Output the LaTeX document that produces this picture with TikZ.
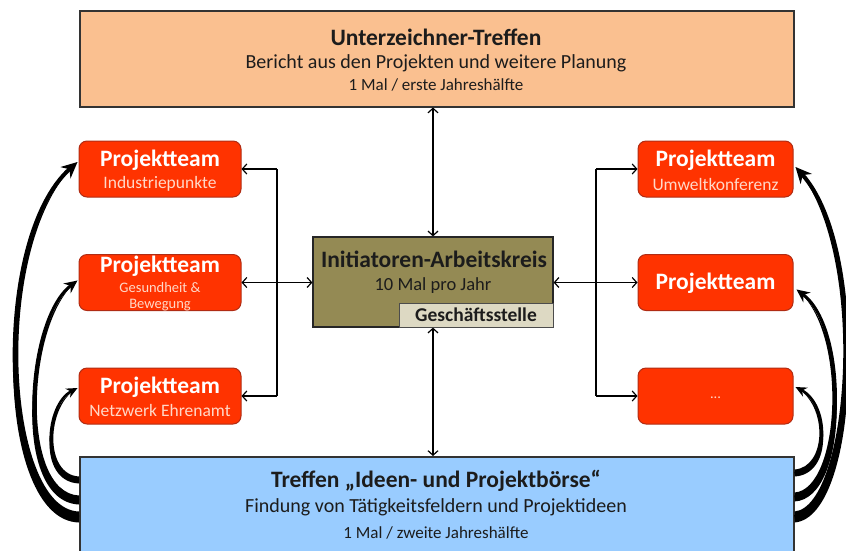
\documentclass[tikz,border=0pt]{standalone}
\usepackage{fontspec}
\setmainfont{Carlito}
\usetikzlibrary{arrows.meta,calc}

\definecolor{peach}{RGB}{250,192,144}
\definecolor{skyfill}{RGB}{153,204,255}
\definecolor{teamred}{RGB}{255,51,0}
\definecolor{teamedge}{RGB}{176,44,20}
\definecolor{olivefill}{RGB}{148,138,84}
\definecolor{khakifill}{RGB}{221,217,195}
\definecolor{subtext}{RGB}{255,216,200}
\definecolor{inktext}{RGB}{28,28,28}

% thick swooping arrow with a tapered body:
% start, control 1, control 2, end, outward sign, half width at the start, arrow style
\newcommand\swoosh[7]{%
  \draw[#7] (#1) .. controls (#2) and (#3) .. (#4);
  \fill ($(#1)+(0,#6)$) .. controls ($(#2)+({(#5)*#6},#6)$) and ($(#3)+({(#5)*1.5},0)$) .. (#4)
    .. controls ($(#3)+({-1*(#5)*1.5},0)$) and ($(#2)+({-1*(#5)*#6},-#6)$) .. ($(#1)+(0,-#6)$) -- cycle;}

\begin{document}
\begin{tikzpicture}[x=1pt,y=-1pt,
  bigbox/.style={draw=black!80,line width=1.5pt,minimum width=714pt,inner sep=0pt,anchor=north west},
  team/.style={draw=teamedge,line width=1pt,fill=teamred,rounded corners=8pt,minimum height=56pt,inner sep=0pt},
  lteam/.style={team,minimum width=162pt},
  rteam/.style={team,minimum width=155pt},
  headtxt/.style={font=\bfseries\fontsize{23.5}{25}\selectfont,text=inktext,inner sep=0pt},
  subtxt/.style={font=\fontsize{20}{22}\selectfont,text=inktext,inner sep=0pt},
  smalltxt/.style={font=\fontsize{17}{19}\selectfont,text=inktext,inner sep=0pt},
  teamhead/.style={font=\bfseries\fontsize{23.5}{25}\selectfont,text=white,inner sep=0pt},
  teamsub/.style={font=\fontsize{17.5}{19}\selectfont,text=subtext,inner sep=0pt},
  teamtiny/.style={font=\fontsize{14.5}{16}\selectfont,text=subtext,inner sep=0pt},
  link/.style={draw=black,line width=1.2pt},
  lk/.style={link,arrows={Straight Barb[length=4.5pt,width=10pt]-Straight Barb[length=4.5pt,width=10pt]}},
  lkto/.style={link,-{Straight Barb[length=4.5pt,width=10pt]}},
  bigA/.style={draw=black,line width=4pt,-{Stealth[length=16pt,width=15pt]}},
  bigB/.style={draw=black,line width=3pt,-{Stealth[length=13pt,width=12pt]}},
  bigC/.style={draw=black,line width=2.5pt,-{Stealth[length=11pt,width=10pt]}}
]
\useasboundingbox (0,0) rectangle (846,550);

% main meeting boxes
\node[bigbox,fill=peach,minimum height=96pt] (top) at (79,10) {};
\node[bigbox,fill=skyfill,minimum height=110pt] (bot) at (79,456) {};

% central working group
\node[draw=black!85,line width=1.2pt,fill=olivefill,minimum width=240pt,minimum height=90pt,inner sep=0pt] (cen) at (433,282) {};
\node[draw=black!70,line width=1pt,fill=khakifill,minimum width=154pt,minimum height=24pt,inner sep=0pt] (office) at (476,315) {};

% project teams
\node[lteam] (lt1) at (160,169) {};
\node[lteam] (lt2) at (160,282.5) {};
\node[lteam] (lt3) at (160,396) {};
\node[rteam] (rt1) at (715.5,169) {};
\node[rteam] (rt2) at (715.5,282.5) {};
\node[rteam] (rt3) at (715.5,396) {};

% texts
\node[headtxt] (topT) at (436,37) {Unterzeichner-Treffen};
\node[subtxt] (topS) at (436,63) {Bericht aus den Projekten und weitere Planung};
\node[smalltxt] (topF) at (436,85) {1 Mal / erste Jahreshälfte};

\node[headtxt] (botT) at (436,481) {Treffen „Ideen- und Projektbörse“};
\node[subtxt] (botS) at (436,507) {Findung von Tätigkeitsfeldern und Projektideen};
\node[smalltxt] (botF) at (436,533) {1 Mal / zweite Jahreshälfte};

\node[headtxt] (cenT) at (434,259) {Initiatoren-Arbeitskreis};
\node[font=\fontsize{18.5}{20}\selectfont,text=inktext,inner sep=0pt] (cenS) at (433,286) {10 Mal pro Jahr};
\node[font=\bfseries\fontsize{19.5}{21}\selectfont,text=inktext,inner sep=0pt] (officeT) at (476,315) {Geschäftsstelle};

\node[teamhead] (lt1T) at (160,160) {Projektteam};
\node[teamsub] (lt1S) at (160,184) {Industriepunkte};
\node[teamhead] (lt2T) at (160,266) {Projektteam};
\node[teamtiny] (lt2S) at (160,288) {Gesundheit \&};
\node[teamtiny] (lt2U) at (160,305) {Bewegung};
\node[teamhead] (lt3T) at (160,387) {Projektteam};
\node[teamsub] (lt3S) at (160,410) {Netzwerk Ehrenamt};

\node[teamhead] (rt1T) at (715.5,160) {Projektteam};
\node[teamsub] (rt1S) at (715.5,184) {Umweltkonferenz};
\node[teamhead] (rt2T) at (715.5,283) {Projektteam};
\node[teamtiny] (rt3T) at (715.5,398) {...};

% vertical links
\draw[lk] (cen.north |- top.south) -- (cen.north);
\draw[lk] (cen.south) -- (cen.south |- bot.north);

% left distribution bracket
\coordinate (ljoin) at (277,282.5);
\draw[link] (ljoin |- lt1.east) -- (ljoin |- lt3.east);
\draw[lkto] (ljoin |- lt1.east) -- (lt1.east);
\draw[lkto] (ljoin |- lt3.east) -- (lt3.east);
\draw[lk] (lt2.east) -- (lt2.east -| cen.west);

% right distribution bracket
\coordinate (rjoin) at (596,282.5);
\draw[link] (rjoin |- rt1.west) -- (rjoin |- rt3.west);
\draw[lkto] (rjoin |- rt1.west) -- (rt1.west);
\draw[lkto] (rjoin |- rt3.west) -- (rt3.west);
\draw[lk] (cen.east |- rt2.west) -- (rt2.west);

% thick feedback arrows from the exchange meeting back to the teams (left)
\coordinate (ls1) at ([yshift=-61pt]bot.north west);
\coordinate (ls2) at ([yshift=-44pt]bot.north west);
\coordinate (ls3) at ([yshift=-24pt]bot.north west);
\coordinate (le1) at ([xshift=-1pt,yshift=7pt]lt1.west);
\coordinate (le2) at ([xshift=-1pt,yshift=2pt]lt2.west);
\coordinate (le3) at ([xshift=-1pt,yshift=8pt]lt3.west);
\coordinate (la1) at (0,515);   \coordinate (lb1) at (-10,240);
\coordinate (la2) at (15,497);  \coordinate (lb2) at (25,320);
\coordinate (la3) at (40,478);  \coordinate (lb3) at (45,405);
\swoosh{ls1}{la1}{lb1}{le1}{-1}{5.5}{bigA}
\swoosh{ls2}{la2}{lb2}{le2}{-1}{4.5}{bigB}
\swoosh{ls3}{la3}{lb3}{le3}{-1}{3.5}{bigC}

% thick feedback arrows (right)
\coordinate (rs1) at ([yshift=-61pt]bot.north east);
\coordinate (rs2) at ([yshift=-41pt]bot.north east);
\coordinate (rs3) at ([yshift=-17pt]bot.north east);
\coordinate (re1) at ([xshift=2pt,yshift=2pt]rt1.east);
\coordinate (re2) at ([xshift=3pt,yshift=-7pt]rt2.east);
\coordinate (re3) at ([xshift=2pt,yshift=9pt]rt3.east);
\coordinate (ra1) at (855,512); \coordinate (rb1) at (870,250);
\coordinate (ra2) at (845,494); \coordinate (rb2) at (850,330);
\coordinate (ra3) at (830,471); \coordinate (rb3) at (830,405);
\swoosh{rs1}{ra1}{rb1}{re1}{1}{5.5}{bigA}
\swoosh{rs2}{ra2}{rb2}{re2}{1}{4.5}{bigB}
\swoosh{rs3}{ra3}{rb3}{re3}{1}{3.5}{bigC}
\end{tikzpicture}
\end{document}
